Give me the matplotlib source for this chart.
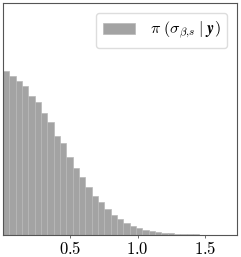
import matplotlib.pyplot as plt
import numpy as np

plt.rcParams['mathtext.fontset'] = 'cm'
plt.rcParams['font.family'] = 'serif'
plt.rcParams['font.serif'] = ['DejaVu Serif']

# histogram (bin width and heights, arbitrary units)
bin_width = 0.0471
heights = [492, 479, 462, 447, 417, 400, 367, 340, 299, 275, 235, 202,
           173, 143, 118, 98, 77, 60, 47, 37, 28, 20, 15, 11, 8, 6, 5,
           4, 3, 2, 2, 1, 1]
edges = np.arange(len(heights)) * bin_width
label = r'$\pi\ (\sigma_{\beta{,}s}\;|\;\boldsymbol{y})$'

fig = plt.figure(figsize=(2.41, 2.57), dpi=100)
ax = fig.add_axes([0.0125, 0.0856, 0.971, 0.9025])
ax.bar(edges, heights, width=bin_width, align='edge', color='#a3a3a3',
       edgecolor='#b8b8b8', linewidth=0.5, label=label)

ax.set_xlim(0, 1.74)
ax.set_ylim(0, 697)
ax.set_xticks([0.5, 1.0, 1.5])
ax.set_xticklabels([r'$0.5$', r'$1.0$', r'$1.5$'], fontsize=12)
ax.set_yticks([])
ax.tick_params(axis='x', length=2, width=0.6, color='#555555', pad=2)
for s in ax.spines.values():
    s.set_color('#555555')
    s.set_linewidth(0.8)

ax.legend(loc='upper right', fontsize=11.5, frameon=True, framealpha=1,
          edgecolor='#dddddd', handlelength=2.0, handletextpad=0.9,
          borderpad=0.45, borderaxespad=0.6)

fig.savefig('out.png', dpi=100)
